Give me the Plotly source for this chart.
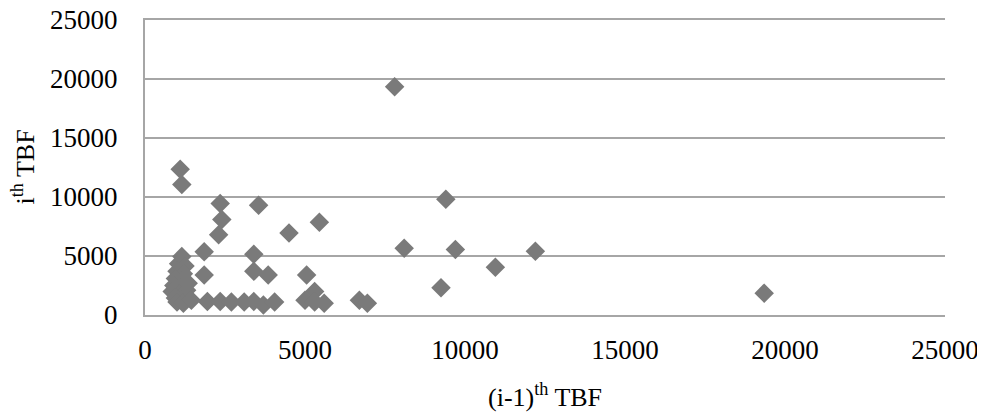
import plotly.graph_objects as go

# (i-1)th TBF and ith TBF pairs
prev_tbf = [1100, 1150, 2350, 3550, 2400, 2300, 4500, 5450, 7800, 9400,
            8100, 9700, 12200, 10950, 9250, 19350, 1850, 3400, 1850, 3400,
            3850, 5050, 5300, 5000, 5300, 5600, 6700, 6950,
            1950, 2350, 2700, 3100, 3400, 3700, 4050,
            1150, 1050, 1250, 1000, 1200, 950, 1150, 900, 1100, 850,
            1050, 1300, 950, 1150, 1000, 1200, 1450, 1350]
curr_tbf = [12350, 11050, 9450, 9300, 8100, 6800, 6950, 7850, 19350, 9800,
            5650, 5550, 5400, 4050, 2300, 1850, 5350, 5150, 3400, 3700,
            3400, 3400, 2000, 1250, 1100, 1000, 1250, 1000,
            1150, 1150, 1100, 1100, 1150, 850, 1100,
            4950, 4350, 4150, 3700, 3500, 3100, 2900, 2500, 2300, 2000,
            1750, 2100, 1450, 1300, 1100, 1000, 1250, 2700]

tick_vals = [0, 5000, 10000, 15000, 20000, 25000]
tick_text = ["0", "5000", "10000", "15000", "20000", "25000"]
x_title = "(i-1)<sup>th</sup> TBF"
y_title = "i<sup>th</sup> TBF"

font_family = "Liberation Serif, Times New Roman, serif"

fig = go.Figure(go.Scatter(
    x=prev_tbf, y=curr_tbf, mode="markers",
    marker=dict(symbol="diamond", size=15, color="#7a7a7a", line=dict(width=0)),
    showlegend=False,
))

# the page body adds an 8 px offset, so the figure is sized 8 px smaller
fig.update_layout(
    template="none",
    width=977, height=404,
    margin=dict(l=137, r=40, t=12, b=97, pad=0),
    paper_bgcolor="white", plot_bgcolor="white",
    font=dict(family=font_family, size=27, color="#000000"),
    xaxis=dict(
        range=[0, 25000], tickvals=tick_vals, ticktext=tick_text,
        automargin=False, ticklabeloverflow="allow",
        showgrid=False, zeroline=False,
        showline=True, mirror=True, linecolor="#a6a6a6", linewidth=2,
        ticks="outside", ticklen=10, tickcolor="rgba(0,0,0,0)",
        tickfont=dict(size=27),
    ),
    yaxis=dict(
        range=[0, 25000], tickvals=tick_vals, ticktext=tick_text,
        automargin=False, ticklabeloverflow="allow",
        showgrid=True, gridcolor="#a6a6a6", gridwidth=2,
        zeroline=False,
        showline=True, linecolor="#a6a6a6", linewidth=2,
        ticks="outside", ticklen=20, tickcolor="rgba(0,0,0,0)",
        tickfont=dict(size=27),
    ),
    annotations=[
        dict(text=x_title, xref="paper", yref="paper", x=0.5, y=0,
             xanchor="center", yanchor="middle", yshift=-80,
             showarrow=False, font=dict(size=26)),
        dict(text=y_title, xref="paper", yref="paper", x=0, y=0.5,
             xanchor="center", yanchor="middle", xshift=-121, textangle=-90,
             showarrow=False, font=dict(size=26)),
    ],
)

fig.write_html("out.html")
